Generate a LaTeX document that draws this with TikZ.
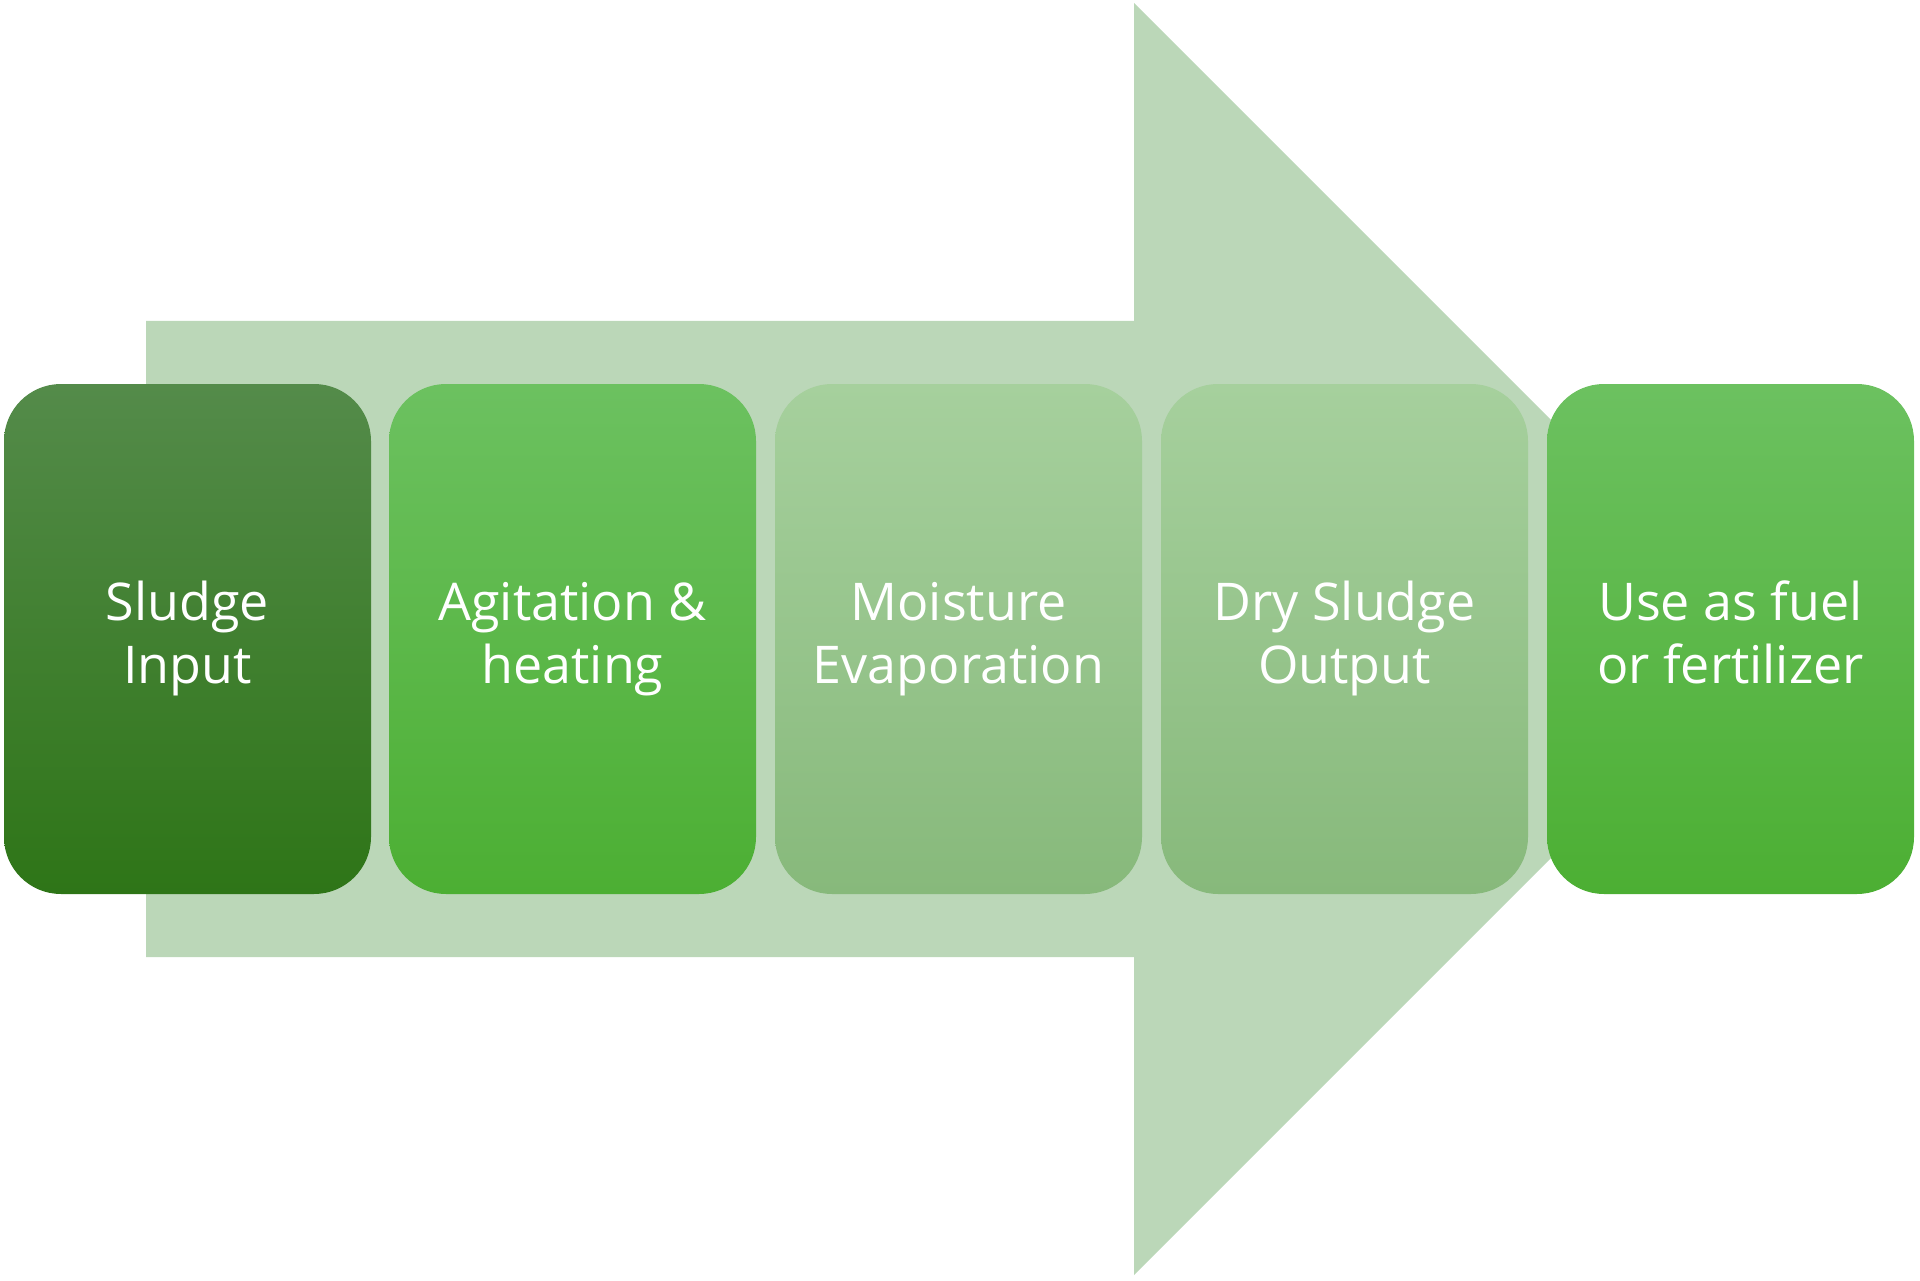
\documentclass[tikz,border=0pt]{standalone}
\usepackage{fontspec}
\setmainfont{Open Sans}
\definecolor{arrowgreen}{HTML}{BBD7B8}
\definecolor{darktop}{HTML}{548B4A}
\definecolor{darkbot}{HTML}{2E7517}
\definecolor{midtop}{HTML}{6CC160}
\definecolor{midbot}{HTML}{4CAF33}
\definecolor{lighttop}{HTML}{A6D09D}
\definecolor{lightbot}{HTML}{87B97B}
\tikzset{
  stepbox/.style={rectangle, rounded corners=57pt, minimum width=367pt, minimum height=510pt,
    inner sep=0pt, align=center, text=white,
    font=\fontsize{52}{63}\selectfont},
  darkbox/.style={stepbox, top color=darktop, bottom color=darkbot},
  midbox/.style={stepbox, top color=midtop, bottom color=midbot},
  lightbox/.style={stepbox, top color=lighttop, bottom color=lightbot},
}
\begin{document}
\begin{tikzpicture}[x=1pt,y=-1pt]
\useasboundingbox (0,0) rectangle (1920,1281);
\fill[arrowgreen] (146,321) -- (1134,321) -- (1134,3) -- (1770,639) -- (1134,1275) -- (1134,957) -- (146,957) -- cycle;
\node[darkbox]  (b1) at (187.5,639) {\strut Sludge\\\strut Input};
\node[midbox]   (b2) at (572.5,639) {\strut Agitation \&\\\strut heating};
\node[lightbox] (b3) at (958.5,639) {\strut Moisture\\\strut Evaporation};
\node[lightbox] (b4) at (1344.5,639) {\strut Dry Sludge\\\strut Output};
\node[midbox]   (b5) at (1730.5,639) {\strut Use as fuel\\\strut or fertilizer};
\end{tikzpicture}
\end{document}
